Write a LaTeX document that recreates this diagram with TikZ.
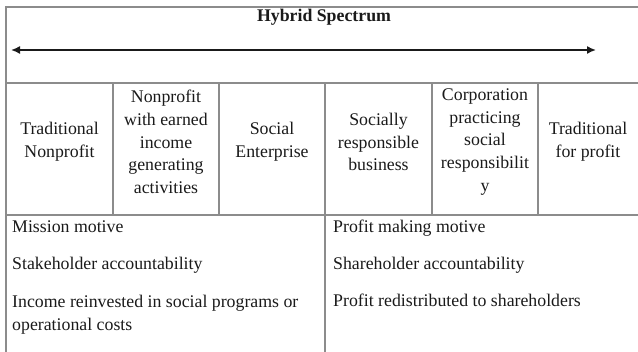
\documentclass[tikz,border=0pt]{standalone}
\usepackage{fontspec}
\setmainfont{Liberation Serif}
\usepackage{xcolor}
\usepackage{tikz}
\usetikzlibrary{arrows.meta}
\definecolor{ruleGray}{HTML}{8C8C8C}
\definecolor{inkBlack}{HTML}{1A1A1A}
\newcommand{\cellfont}{\fontsize{17.8}{22.7}\selectfont}
\tikzset{
  rule/.style={draw=ruleGray,line width=1.1pt},
  headcell/.style={align=center,text=inkBlack,inner sep=0pt,font=\cellfont},
  trait/.style={anchor=mid west,align=left,text=inkBlack,inner sep=0pt,font=\cellfont},
  spectrum/.style={{Latex[length=9pt,width=8pt]}-{Latex[length=9pt,width=8pt]},
    line width=1.6pt,draw=inkBlack}
}

\begin{document}
\begin{tikzpicture}[x=1pt,y=-1pt]
  \useasboundingbox (0,0) rectangle (638,352);

  % table rules (right and bottom edges run off the page)
  \draw[rule] (6,352) -- (6,7) -- (638,7);
  \draw[rule] (6,83) -- (638,83);
  \draw[rule] (6,215) -- (638,215);
  \foreach \xx in {113,219,432,538}
    \draw[rule] (\xx,83) -- (\xx,215);
  \draw[rule] (325,83) -- (325,352);

  % spectrum heading and double arrow
  \node[headcell, font=\cellfont\bfseries] (title) at (324,17) {Hybrid Spectrum};
  \coordinate (spec-left) at (11,50);
  \coordinate (spec-right) at (596,50);
  \draw[spectrum] (spec-left) -- (spec-right);

  % organisation types along the spectrum
  \node[headcell] (trad-np)   at (59.5,142)  {Traditional\\Nonprofit};
  \node[headcell] (np-earned) at (166,142)   {Nonprofit\\with earned\\income\\generating\\activities};
  \node[headcell] (soc-ent)   at (272,142)   {Social\\Enterprise};
  \node[headcell] (srb)       at (378.5,142) {Socially\\responsible\\business};
  \node[headcell] (corp-csr)  at (485,142)   {Corporation\\practicing\\social\\responsibilit\\y};
  \node[headcell] (trad-fp)   at (588,142)   {Traditional\\for profit};

  % nonprofit side
  \node[trait] (np-motive) at (12,230) {Mission motive};
  \node[trait] (np-acct)   at (12,267) {Stakeholder accountability};
  \node[trait, anchor=west] (np-income) at (12,315)
    {Income reinvested in social programs or\\operational costs};
  % for-profit side
  \node[trait] (fp-motive) at (333,230) {Profit making motive};
  \node[trait] (fp-acct)   at (333,267) {Shareholder accountability};
  \node[trait] (fp-income) at (333,304) {Profit redistributed to shareholders};
\end{tikzpicture}
\end{document}
